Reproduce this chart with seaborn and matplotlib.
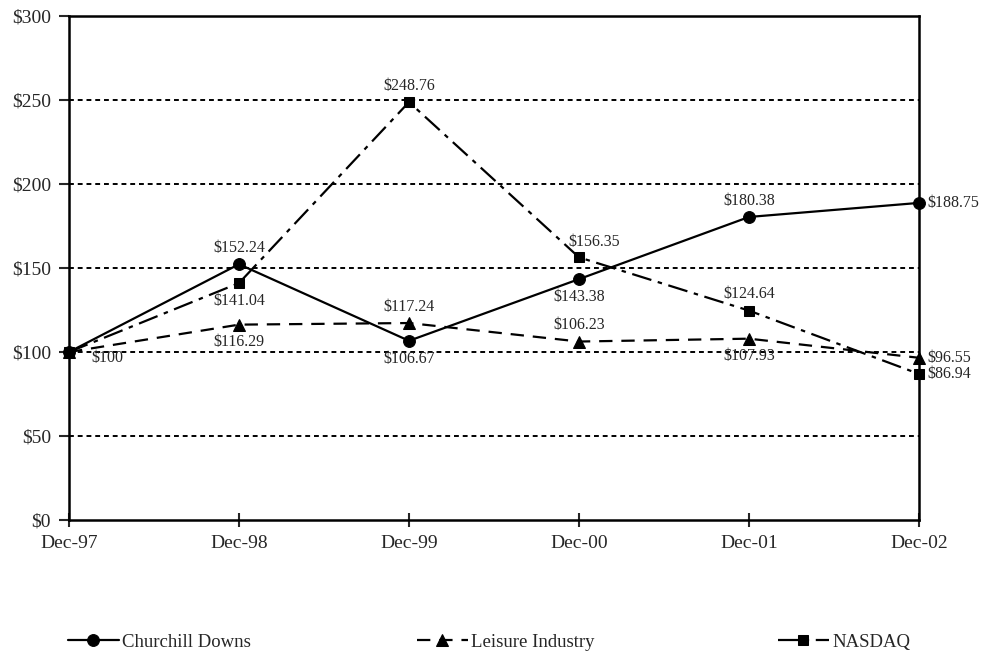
import matplotlib
matplotlib.use("Agg")
import matplotlib.pyplot as plt
import pandas as pd
import seaborn as sns

# ==========================================
# DATA
# ==========================================
periods = ["Dec-97", "Dec-98", "Dec-99", "Dec-00", "Dec-01", "Dec-02"]
churchill = [100, 152.24, 106.67, 143.38, 180.38, 188.75]
leisure = [100, 116.29, 117.24, 106.23, 107.93, 96.55]
nasdaq = [100, 141.04, 248.76, 156.35, 124.64, 86.94]
series_names = ["Churchill Downs", "Leisure Industry", "NASDAQ"]
y_ticks = [0, 50, 100, 150, 200, 250, 300]

# label placement per series: a=above, b=below, r=right, ar=above-right, rb=right-below
label_pos = {
    "Churchill Downs": ["rb", "a", "b", "b", "a", "r"],
    "Leisure Industry": [None, "b", "a", "a", "b", "r"],
    "NASDAQ": [None, "b", "a", "ar", "a", "r"],
}
styles = {
    "Churchill Downs": dict(marker="o", ls="-", ms=8.5),
    "Leisure Industry": dict(marker="^", ls=(0, (6, 4)), ms=8.5),
    "NASDAQ": dict(marker="s", ls=(0, (9, 3, 2, 3)), ms=7),
}
legend_x = [68, 417, 778]  # pixel start of each legend entry

df = pd.DataFrame({
    "period": periods * 3,
    "x": list(range(len(periods))) * 3,
    "value": churchill + leisure + nasdaq,
    "series": sum([[n] * len(periods) for n in series_names], []),
})

sns.set_theme(style="white")
plt.rcParams["font.family"] = ["Liberation Serif", "DejaVu Serif"]

W, H = 981, 653
fig = plt.figure(figsize=(W / 100, H / 100), dpi=100)
ax = fig.add_axes([69 / W, 1 - 520 / H, 850 / W, 504 / H])

offsets = {"a": (0, 6, "center", "bottom"), "b": (0, -7, "center", "top"),
           "r": (6, 0, "left", "center"), "ar": (11, 5, "center", "bottom"),
           "rb": (16, -4, "left", "center")}

handles = []
for name in series_names:
    sub = df[df["series"] == name]
    st = styles[name]
    sns.lineplot(data=sub, x="x", y="value", ax=ax, color="black",
                 linewidth=1.6, linestyle=st["ls"], marker=st["marker"],
                 markersize=st["ms"], markeredgecolor="black",
                 markerfacecolor="black", legend=False, clip_on=False, zorder=3)
    handles.append(ax.lines[-1])

    for xi, val, pos in zip(sub["x"], sub["value"], label_pos[name]):
        if pos is None:
            continue
        dx, dy, ha, va = offsets[pos]
        txt = f"${val:g}" if val == 100 else f"${val:.2f}"
        ax.annotate(txt, (xi, val), xytext=(dx, dy), textcoords="offset points",
                    ha=ha, va=va, fontsize=11.5, clip_on=False)

ax.set_xlim(0, len(periods) - 1)
ax.set_ylim(0, 300)
ax.set_xticks(range(len(periods)))
ax.set_xticklabels(periods, fontsize=14)
ax.set_yticks(y_ticks)
ax.set_yticklabels([f"${v}" for v in y_ticks], fontsize=14)
ax.set_xlabel("")
ax.set_ylabel("")
for v in y_ticks[1:-1]:
    ax.axhline(v, color="black", lw=1.4, ls=(0, (2.5, 2)), zorder=0)
for sp in ax.spines.values():
    sp.set_linewidth(1.8)
    sp.set_color("black")
ax.tick_params(axis="x", direction="inout", length=10, width=1.5, pad=6, bottom=True)
ax.tick_params(axis="y", direction="out", length=7, width=1.5, pad=6, left=True)

for h, name, px in zip(handles, series_names, legend_x):
    fig.legend([h], [name], loc="center left", bbox_to_anchor=(px / W, 1 - 642 / H),
               frameon=False, fontsize=13.5, handlelength=2.7,
               handletextpad=0.2, borderpad=0, borderaxespad=0)

fig.savefig("out.png", dpi=100)
